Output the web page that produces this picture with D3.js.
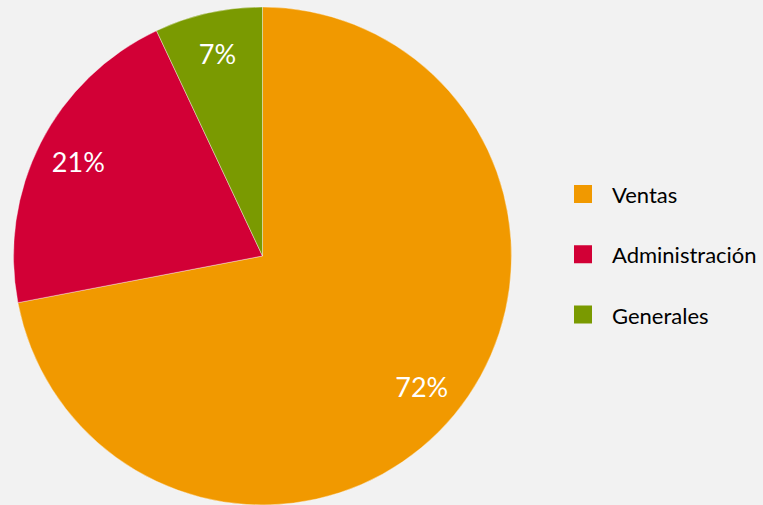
<!DOCTYPE html>
<html>
<head>
<meta charset="utf-8">
<script src="https://cdn.jsdelivr.net/npm/d3@7"></script>
<style>
  html, body { margin: 0; padding: 0; background: #F2F2F2; }
  svg { display: block; }
</style>
</head>
<body>
<svg id="chart" width="763" height="505"></svg>
<script>
const categories = ["Ventas", "Administración", "Generales"];
const values = [72, 21, 7];
const labels = ["72%", "21%", "7%"];
const colors = ["#F19900", "#D20036", "#7A9A01"];

const width = 763, height = 505;
const cx = 262.5, cy = 256, R = 249;
const svg = d3.select("#chart");
svg.append("rect").attr("width", width).attr("height", height).attr("fill", "#F2F2F2");

const data = categories.map((c, i) => ({ cat: c, value: values[i], label: labels[i], color: colors[i] }));
const pie = d3.pie().value(d => d.value).sort(null);
const arcs = pie(data);
const arc = d3.arc().innerRadius(0).outerRadius(R);
const labelArc = d3.arc().innerRadius(R * 0.83).outerRadius(R * 0.83);

const g = svg.append("g").attr("transform", `translate(${cx},${cy})`);
g.selectAll("path").data(arcs).enter().append("path")
  .attr("d", arc)
  .attr("fill", d => d.data.color)
  .attr("stroke", "#ffffff")
  .attr("stroke-opacity", 0.5)
  .attr("stroke-width", 0.75);

g.selectAll("text.lbl").data(arcs).enter().append("text")
  .attr("class", "lbl")
  .attr("transform", d => `translate(${labelArc.centroid(d)})`)
  .attr("text-anchor", "middle")
  .attr("dy", "0.35em")
  .attr("fill", "#ffffff")
  .style("font-family", "Lato, Carlito, Calibri, sans-serif")
  .style("font-size", "27px")
  .text(d => d.data.label);

const legendY = d3.scalePoint().domain(categories).range([194, 314.5]);
const lg = svg.append("g");
const items = lg.selectAll("g").data(data).enter().append("g")
  .attr("transform", d => `translate(574,${legendY(d.cat)})`);
items.append("rect").attr("x", 0).attr("y", -9).attr("width", 18).attr("height", 18)
  .attr("fill", d => d.color);
items.append("text").attr("x", 38).attr("y", 9)
  .attr("fill", "#000000")
  .style("font-family", "Lato, Carlito, Calibri, sans-serif")
  .style("font-size", "22px")
  .text(d => d.cat);
</script>
</body>
</html>
